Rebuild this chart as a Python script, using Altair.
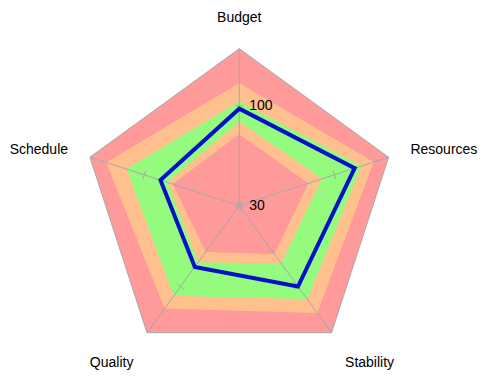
import altair as alt
import pandas as pd

# ---- data ----
axes = ["Budget", "Resources", "Stability", "Quality", "Schedule"]
scores = [98, 115, 100, 83, 88]
band_outer = [140, 140, 140, 140, 140]
band_1 = [116, 129, 123, 119, 128]   # pink -> orange
band_2 = [103, 120, 111, 108, 113]   # orange -> green
band_3 = [89, 91, 80, 79, 83]        # green -> orange
band_4 = [80, 81, 72, 70, 79]        # orange -> pink
band_colors = ["#ff9a9a", "#ffc08e", "#94fb7e", "#ffc08e", "#ff9a9a"]
tick_values = [30, 100]
tick_labels = ["30", "100"]
label_align = ["center", "left", "left", "right", "right"]
label_baseline = ["bottom", "middle", "top", "top", "middle"]

R_MIN, R_MAX = 30, 140
N = len(axes)
PX = 157.0                    # pixels per unit radius
W, H = 478, 362
CX, CY = 231.25, 197.7        # centre in plot coordinates
LABEL_R = 180.0 / PX
TICK_H = 4.5 / PX
GRAY = "#a8a8a8"
FONT = "Liberation Sans"

xs = alt.Scale(domain=[-CX / PX, (W - CX) / PX], nice=False, zero=False)
ys = alt.Scale(domain=[-(H - CY) / PX, CY / PX], nice=False, zero=False)

# ---- tables built from the arrays ----
band_rows = []
for b, vals in enumerate([band_outer, band_1, band_2, band_3, band_4]):
    for i, v in enumerate(vals):
        band_rows.append({"band": b, "i": i, "v": v})
bands_df = pd.DataFrame(band_rows)

score_df = pd.DataFrame({"i": list(range(N)), "axis": axes, "v": scores})
axes_df = pd.DataFrame({"i": list(range(N)), "axis": axes,
                        "align": label_align, "baseline": label_baseline})
tick_rows = []
for i in range(N):
    for t in tick_values:
        tick_rows.append({"i": i, "t": t})
ticks_df = pd.DataFrame(tick_rows)
tlab_df = pd.DataFrame({"i": [0] * len(tick_values), "t": tick_values, "label": tick_labels})


def polar(ch, rexpr):
    return (ch.transform_calculate(a=f"PI/2 - datum.i*2*PI/{N}")
              .transform_calculate(r=rexpr)
              .transform_calculate(x="datum.r*cos(datum.a)")
              .transform_calculate(y="datum.r*sin(datum.a)"))


RV = f"(datum.v - {R_MIN})/({R_MAX}-{R_MIN})"
RT = f"(datum.t - {R_MIN})/({R_MAX}-{R_MIN})"

layers = []
for b in range(5):
    kw = dict(interpolate="linear-closed", fill=band_colors[b])
    if b == 0:
        kw.update(stroke=GRAY, strokeWidth=1)
    else:
        kw.update(stroke=band_colors[b], strokeWidth=0)
    layer = polar(alt.Chart(bands_df).transform_filter(f"datum.band == {b}"), RV).mark_line(**kw).encode(
        x=alt.X("x:Q", scale=xs, axis=None),
        y=alt.Y("y:Q", scale=ys, axis=None),
        order=alt.Order("i:Q"),
    )
    layers.append(layer)

# axis spokes
spokes = polar(alt.Chart(axes_df), "1").transform_calculate(x0="0", y0="0").mark_rule(
    color=GRAY, strokeWidth=1).encode(
    x=alt.X("x0:Q", scale=xs, axis=None), y=alt.Y("y0:Q", scale=ys, axis=None),
    x2="x:Q", y2="y:Q")

# tick crosses
ticks = (alt.Chart(ticks_df)
         .transform_calculate(a=f"PI/2 - datum.i*2*PI/{N}")
         .transform_calculate(r=RT)
         .transform_calculate(tx1=f"datum.r*cos(datum.a) + {TICK_H}*sin(datum.a)")
         .transform_calculate(ty1=f"datum.r*sin(datum.a) - {TICK_H}*cos(datum.a)")
         .transform_calculate(tx2=f"datum.r*cos(datum.a) - {TICK_H}*sin(datum.a)")
         .transform_calculate(ty2=f"datum.r*sin(datum.a) + {TICK_H}*cos(datum.a)")
         .mark_rule(color=GRAY, strokeWidth=1)
         .encode(x=alt.X("tx1:Q", scale=xs, axis=None), y=alt.Y("ty1:Q", scale=ys, axis=None),
                 x2="tx2:Q", y2="ty2:Q"))

# score polygon
score_line = polar(alt.Chart(score_df), RV).mark_line(
    interpolate="linear-closed", stroke="#0010c8", strokeWidth=4, strokeJoin="miter").encode(
    x=alt.X("x:Q", scale=xs, axis=None), y=alt.Y("y:Q", scale=ys, axis=None),
    order=alt.Order("i:Q"))

# tick labels on the first axis
tick_text = polar(alt.Chart(tlab_df), RT).mark_text(
    align="left", baseline="middle", dx=10, font=FONT, fontSize=14, color="black").encode(
    x=alt.X("x:Q", scale=xs, axis=None), y=alt.Y("y:Q", scale=ys, axis=None), text="label:N")

# axis labels
label_dy = {"bottom": -1, "middle": 0, "top": 5}
axis_text = []
for al in ["center", "left", "right"]:
    for bl in ["bottom", "middle", "top"]:
        sub = axes_df[(axes_df["align"] == al) & (axes_df["baseline"] == bl)]
        if len(sub) == 0:
            continue
        axis_text.append(polar(alt.Chart(sub), str(LABEL_R)).mark_text(
            align=al, baseline=bl, dy=label_dy[bl], font=FONT, fontSize=14, color="black").encode(
            x=alt.X("x:Q", scale=xs, axis=None), y=alt.Y("y:Q", scale=ys, axis=None),
            text="axis:N"))

chart = alt.layer(*layers, spokes, ticks, score_line, tick_text, *axis_text).properties(
    width=W, height=H, padding=0, autosize="none"
).configure_view(stroke=None)

chart.save("out.html", embed_options={"renderer": "svg", "actions": False})
